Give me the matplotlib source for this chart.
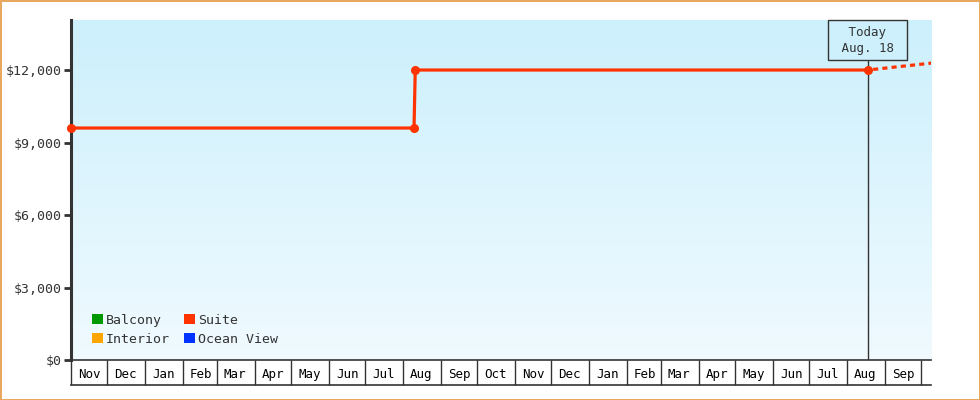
import datetime as dt
import numpy as np
import matplotlib
matplotlib.use('Agg')
import matplotlib.pyplot as plt
import matplotlib.dates as mdates
from matplotlib.patches import Patch
from matplotlib.ticker import FuncFormatter

plt.rcParams['font.family'] = ['DejaVu Sans Mono']

# legend series (only Suite has a price history)
series_names = ['Balcony', 'Interior', 'Suite', 'Ocean View']
series_colors = ['#009900', '#ffa500', '#ff3300', '#0033ff']

suite_dates = [dt.date(2016, 11, 1), dt.date(2017, 8, 10), dt.date(2017, 8, 11), dt.date(2018, 8, 18)]
suite_prices = [9600, 9600, 12000, 12000]

forecast_dates = [dt.date(2018, 8, 18), dt.date(2018, 10, 10)]
forecast_prices = [12000, 12290]

today = dt.date(2018, 8, 18)
today_lines = ['Today', 'Aug. 18']

x_start = dt.date(2016, 11, 1)
x_end = dt.date(2018, 10, 9)
y_max = 14070
y_ticks = [0, 3000, 6000, 9000, 12000]

dark = '#333333'

fig = plt.figure(figsize=(9.8, 4.0), dpi=100)
fig.patch.set_facecolor('white')
fig.patch.set_edgecolor('#e8a860')
fig.patch.set_linewidth(2)
ax = fig.add_axes([71 / 980, 40 / 400, 860 / 980, 340 / 400])

# background gradient
top = np.array([204, 240, 252]) / 255
bottom = np.array([240, 250, 255]) / 255
t = np.linspace(0, 1, 256)[:, None]
grad = (top * (1 - t) + bottom * t)[:, None, :].repeat(2, axis=1)
ax.imshow(grad, extent=[0, 1, 0, 1], transform=ax.transAxes, aspect='auto', zorder=0)

ax.plot(suite_dates, suite_prices, color=series_colors[2], lw=2.3, marker='o', ms=5.5,
        zorder=4, clip_on=False)
ax.plot(forecast_dates, forecast_prices, color=series_colors[2], lw=2.3,
        linestyle=(1.2, (1.6, 1.3)), zorder=4)

ax.set_xlim(x_start, x_end)
ax.set_ylim(0, y_max)

# today marker
ax.axvline(today, ymin=0, ymax=(360 - 60) / 340, color=dark, lw=1, zorder=3)
ax.text(mdates.date2num(today), 1 - 5.6 / 340, '\n'.join(' ' + s + ' ' for s in today_lines),
        transform=ax.get_xaxis_transform(), ha='center', va='top', multialignment='center',
        fontsize=9, color=dark, linespacing=1.3, zorder=5,
        bbox=dict(boxstyle='square,pad=0.45', facecolor='#cdf0fc', edgecolor=dark, lw=1))

# y axis
ax.set_yticks(y_ticks)
ax.yaxis.set_major_formatter(FuncFormatter(lambda v, p: '${:,.0f}'.format(v)))
ax.tick_params(axis='y', length=5, width=2, color=dark, labelcolor=dark, labelsize=9.5, pad=2)

# x axis: month boxes
ax.xaxis.set_major_locator(mdates.MonthLocator())
ax.xaxis.set_major_formatter(plt.NullFormatter())
ax.xaxis.set_minor_locator(mdates.MonthLocator(bymonthday=16))
ax.xaxis.set_minor_formatter(mdates.DateFormatter('%b'))
ax.tick_params(axis='x', which='major', length=18, width=1, color=dark, direction='out')
ax.tick_params(axis='x', which='minor', length=0, labelsize=9, labelcolor='black', pad=6)
ax.plot([0, 1], [-25 / 340, -25 / 340], transform=ax.transAxes, color=dark, lw=1.2, clip_on=False)

for s in ['top', 'right']:
    ax.spines[s].set_visible(False)
ax.spines['left'].set_linewidth(2.2)
ax.spines['left'].set_color(dark)
ax.spines['bottom'].set_linewidth(1.2)
ax.spines['bottom'].set_color(dark)

handles = [Patch(facecolor=c, edgecolor='none', label=n) for n, c in zip(series_names, series_colors)]
ax.legend(handles=handles, ncol=2, loc='lower left', bbox_to_anchor=(0.024, 0.042),
          frameon=False, fontsize=9.5, handlelength=0.85, handleheight=0.85,
          handletextpad=0.2, columnspacing=1.1, labelspacing=0.45, borderaxespad=0,
          borderpad=0, labelcolor=dark)

fig.savefig('out.png', dpi=100)
